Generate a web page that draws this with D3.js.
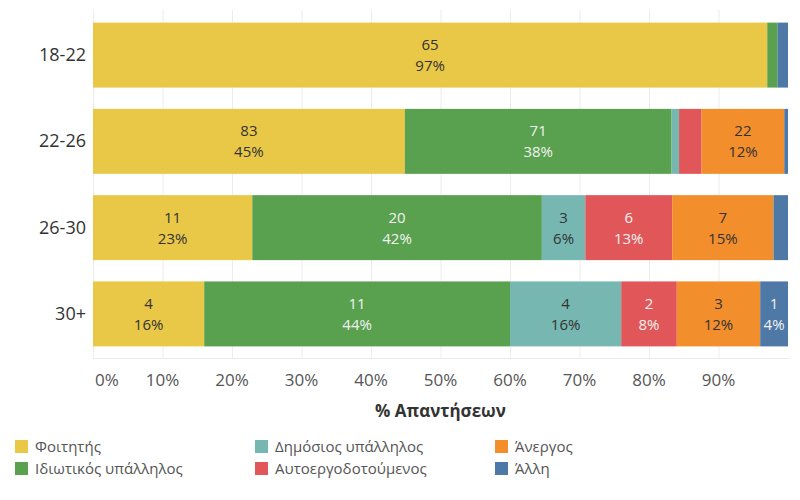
<!DOCTYPE html>
<html>
<head>
<meta charset="utf-8">
<script src="https://cdn.jsdelivr.net/npm/d3@7"></script>
<style>
  html, body { margin: 0; padding: 0; background: #fff; }
  svg { display: block; font-family: "Open Sans", "Noto Sans", sans-serif; }
</style>
</head>
<body>
<svg id="chart" width="800" height="500"></svg>
<script>
// ---- Data ----
const ageGroups = ["18-22", "22-26", "26-30", "30+"];
const seriesNames = ["Φοιτητής", "Ιδιωτικός υπάλληλος", "Δημόσιος υπάλληλος", "Αυτοεργοδοτούμενος", "Άνεργος", "Άλλη"];
const studentValues   = [65, 83, 11, 4];
const privateValues   = [1, 71, 20, 11];
const publicValues    = [0, 2, 3, 4];
const selfEmpValues   = [0, 6, 6, 2];
const unemployedValues= [0, 22, 7, 3];
const otherValues     = [1, 1, 1, 1];
const tickValues = [0, 0.1, 0.2, 0.3, 0.4, 0.5, 0.6, 0.7, 0.8, 0.9];
const tickLabels = ["0%", "10%", "20%", "30%", "40%", "50%", "60%", "70%", "80%", "90%"];
const axisTitle = "% Απαντήσεων";

const seriesColors = ["#E9C848", "#59A14F", "#76B7B2", "#E15759", "#F28E2B", "#4E79A7"];
const labelColors  = ["#333333", "#F2F2F2", "#333333", "#F2F2F2", "#333333", "#F2F2F2"];

const allValues = [studentValues, privateValues, publicValues, selfEmpValues, unemployedValues, otherValues];

// ---- Build rows ----
const rows = ageGroups.map((g, i) => {
  const row = { group: g };
  seriesNames.forEach((s, j) => row[s] = allValues[j][i]);
  row.total = d3.sum(allValues, v => v[i]);
  return row;
});

const stacked = d3.stack()
  .keys(seriesNames)
  .value((d, key) => d[key] / d.total)(rows);

const svg = d3.select("#chart");
const x = d3.scaleLinear().domain([0, 1]).range([93, 788]);
const y = d3.scaleBand().domain(ageGroups).range([12, 357]).paddingInner(0.247).paddingOuter(0.123);

// Gridlines
svg.append("g").selectAll("line")
  .data(tickValues)
  .join("line")
  .attr("x1", d => x(d) + 0.5).attr("x2", d => x(d) + 0.5)
  .attr("y1", 10).attr("y2", 358)
  .attr("stroke", "#ececec").attr("stroke-width", 1);

svg.append("line")
  .attr("x1", 93).attr("x2", 790)
  .attr("y1", 358.5).attr("y2", 358.5)
  .attr("stroke", "#ececec");

// Bars
const layers = svg.append("g").selectAll("g")
  .data(stacked)
  .join("g")
  .attr("fill", (d, i) => seriesColors[i]);

layers.selectAll("rect")
  .data(d => d.map(p => ({ p, key: d.key })))
  .join("rect")
  .attr("x", d => x(d.p[0]))
  .attr("width", d => Math.max(0, x(d.p[1]) - x(d.p[0])))
  .attr("y", d => y(d.p.data.group))
  .attr("height", y.bandwidth());

// Bar labels
const labelG = svg.append("g").attr("font-size", 15).attr("text-anchor", "middle");
stacked.forEach((layer, si) => {
  layer.forEach(p => {
    const w = x(p[1]) - x(p[0]);
    if (w < 25) return;
    const cx = (x(p[0]) + x(p[1])) / 2;
    const cy = y(p.data.group) + y.bandwidth() / 2;
    const count = p.data[layer.key];
    const pct = Math.round(count / p.data.total * 100) + "%";
    labelG.append("text").attr("x", cx).attr("y", cy - 5)
      .attr("fill", labelColors[si]).text(count);
    labelG.append("text").attr("x", cx).attr("y", cy + 16)
      .attr("fill", labelColors[si]).text(pct);
  });
});

// Y axis labels
svg.append("g").selectAll("text")
  .data(ageGroups)
  .join("text")
  .attr("x", 86)
  .attr("y", d => y(d) + y.bandwidth() / 2 + 6)
  .attr("text-anchor", "end")
  .attr("font-size", 18)
  .attr("fill", "#333")
  .text(d => d);

// X axis tick labels
svg.append("g").selectAll("text")
  .data(tickValues)
  .join("text")
  .attr("x", (d, i) => i === 0 ? x(d) + 2 : x(d))
  .attr("y", 386)
  .attr("text-anchor", (d, i) => i === 0 ? "start" : "middle")
  .attr("font-size", 17)
  .attr("fill", "#555")
  .text((d, i) => tickLabels[i]);

// Axis title
svg.append("text")
  .attr("x", (x(0) + x(1)) / 2)
  .attr("y", 417)
  .attr("text-anchor", "middle")
  .attr("font-size", 17)
  .attr("font-weight", "bold")
  .attr("fill", "#333")
  .text(axisTitle);

// Legend
const legendPos = [[15, 440], [15, 462], [255, 440], [255, 462], [495, 440], [495, 462]];
const legend = svg.append("g");
seriesNames.forEach((s, i) => {
  const [lx, ly] = legendPos[i];
  legend.append("rect").attr("x", lx).attr("y", ly).attr("width", 13).attr("height", 13)
    .attr("fill", seriesColors[i]);
  legend.append("text").attr("x", lx + 20).attr("y", ly + 12)
    .attr("font-size", 15).attr("fill", "#555").text(s);
});
</script>
</body>
</html>
